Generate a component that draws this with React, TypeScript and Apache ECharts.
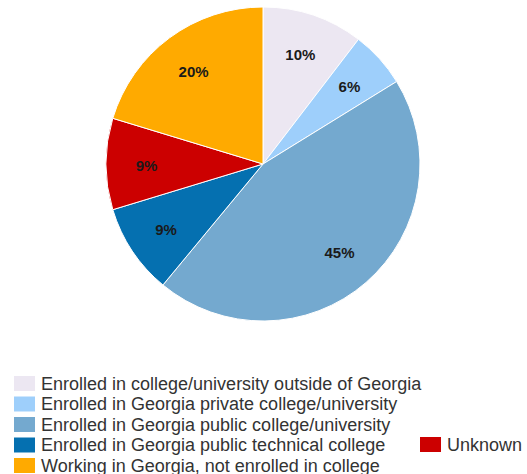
import React, { useEffect, useRef } from "react";
import * as echarts from "echarts";

const categories = [
  "Enrolled in college/university outside of Georgia",
  "Enrolled in Georgia private college/university",
  "Enrolled in Georgia public college/university",
  "Enrolled in Georgia public technical college",
  "Unknown",
  "Working in Georgia, not enrolled in college",
];
const values = [10.4, 5.8, 44.8, 9.3, 9.4, 20.3];
const colors = ["#ece7f2", "#9ecffb", "#74a9cf", "#0570b0", "#cc0000", "#ffaa00"];

const leftLegend = [
  "Enrolled in college/university outside of Georgia",
  "Enrolled in Georgia private college/university",
  "Enrolled in Georgia public college/university",
  "Enrolled in Georgia public technical college",
  "Working in Georgia, not enrolled in college",
];
const rightLegend = ["Unknown"];

export default function App() {
  const ref = useRef<HTMLDivElement>(null);
  useEffect(() => {
    if (!ref.current) return;
    const chart = echarts.init(ref.current, null, { renderer: "svg" });
    const data = categories.map((name, i) => ({
      name,
      value: values[i],
      itemStyle: { color: colors[i] },
    }));
    const font = "Arial, 'Liberation Sans', sans-serif";
    const legendCommon = {
      orient: "vertical" as const,
      itemWidth: 23,
      itemHeight: 17,
      itemGap: 1.5,
      padding: 0,
      height: 140,
      icon: "rect",
      textStyle: { fontFamily: font, fontSize: 18, color: "#333" },
      selectedMode: false,
    };
    chart.setOption({
      animation: false,
      backgroundColor: "#fff",
      legend: [
        { ...legendCommon, data: leftLegend, left: 12, top: 374 },
        { ...legendCommon, data: rightLegend, left: 418, top: 435 },
      ],
      series: [
        {
          type: "pie",
          center: [263, 164],
          radius: [0, 157],
          startAngle: 90,
          clockwise: true,
          data,
          label: { show: false },
          labelLine: { show: false },
          itemStyle: { borderColor: "#fff", borderWidth: 1 },
          silent: true,
        },
        {
          type: "pie",
          center: [263, 165],
          radius: [70, 157],
          startAngle: 90,
          clockwise: true,
          data: categories.map((name, i) => ({ name, value: values[i] })),
          itemStyle: { color: "rgba(0,0,0,0)", borderWidth: 0 },
          label: {
            show: true,
            position: "inside",
            formatter: (p: any) => `${Math.round(p.value)}%`,
            fontFamily: font,
            fontSize: 15,
            fontWeight: "bold",
            color: "#1a1a1a",
          },
          labelLine: { show: false },
          silent: true,
        },
      ],
    });
    return () => chart.dispose();
  }, []);
  return (
    <div
      ref={ref}
      style={{ position: "fixed", left: 0, top: 0, width: 527, height: 474 }}
    />
  );
}
